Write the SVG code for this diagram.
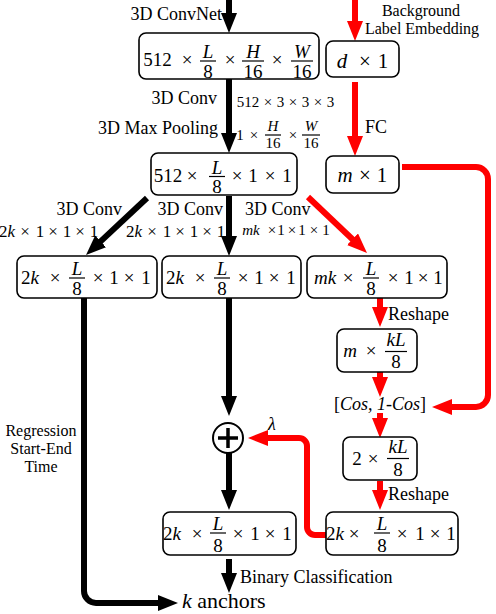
<svg xmlns="http://www.w3.org/2000/svg" width="496" height="614" viewBox="0 0 496 614" font-family="'Liberation Serif', 'DejaVu Serif', serif">
<defs>
<style>
text, tspan { font-family: 'Liberation Serif', 'DejaVu Serif', serif; fill: #000; }
.lb { font-size: 18px; }
.lb16 { font-size: 16px; text-anchor: middle; }
.sm { font-size: 15px; text-anchor: middle; }
.m { font-size: 19px; text-anchor: middle; }
.mb { font-size: 21px; text-anchor: middle; }
.i { font-style: italic; }
.box { fill: #fff; stroke: #000; stroke-width: 1.6; }
.fr { stroke: #000; stroke-width: 1.2; }
.ck { fill: none; stroke: #000; stroke-width: 6; }
.cr { fill: none; stroke: #f00; stroke-width: 6; }
</style>
<marker id="ab" viewBox="0 0 20 16" refX="4" refY="8" markerWidth="20" markerHeight="16" markerUnits="userSpaceOnUse" orient="auto"><path d="M0,0L20,8L0,16z" fill="#000"/></marker>
<marker id="ar" viewBox="0 0 20 16" refX="4" refY="8" markerWidth="20" markerHeight="16" markerUnits="userSpaceOnUse" orient="auto"><path d="M0,0L20,8L0,16z" fill="#f00"/></marker>
</defs>
<rect width="496" height="614" fill="#fff"/>

<g id="connectors">
<path class="ck" d="M229,0V17" marker-end="url(#ab)"/>
<path class="ck" d="M229,79V137" marker-end="url(#ab)"/>
<path class="ck" d="M147,198L97.7,244.1" marker-end="url(#ab)"/>
<path class="ck" d="M229,196V240" marker-end="url(#ab)"/>
<path class="ck" d="M84,298V591A12,12 0 0 0 96,603H162" marker-end="url(#ab)"/>
<path class="ck" d="M229,298V400" marker-end="url(#ab)"/>
<path class="ck" d="M229,453V494" marker-end="url(#ab)"/>
<path class="ck" d="M229,559V577" marker-end="url(#ab)"/>
<path class="cr" d="M355,0V25" marker-end="url(#ar)"/>
<path class="cr" d="M355,82V140" marker-end="url(#ar)"/>
<path class="cr" d="M308,197L355.4,242" marker-end="url(#ar)"/>
<path class="cr" d="M380,298V311" marker-end="url(#ar)"/>
<path class="cr" d="M380,372V381" marker-end="url(#ar)"/>
<path class="cr" d="M380,413V422" marker-end="url(#ar)"/>
<path class="cr" d="M380,481V494" marker-end="url(#ar)"/>
<path class="cr" d="M402,167H476A12,12 0 0 1 488,179V395A12,12 0 0 1 476,407H448" marker-end="url(#ar)"/>
<path class="cr" d="M326,535H315A8,8 0 0 1 307,527V446A8,8 0 0 0 299,438H264" marker-end="url(#ar)"/>
</g>

<g id="labels">
<text class="lb" x="222" y="20" text-anchor="end">3D ConvNet</text>
<text class="lb16" x="421" y="15.5">Background</text>
<text class="lb16" x="422" y="33.5">Label Embedding</text>
<text class="lb" x="217" y="104" text-anchor="end">3D Conv</text>
<text class="sm" x="248" y="107">512</text><text class="sm" x="268" y="107">×</text><text class="sm" x="280.5" y="107">3</text><text class="sm" x="293" y="107">×</text><text class="sm" x="305.5" y="107">3</text><text class="sm" x="318" y="107">×</text><text class="sm" x="330.5" y="107">3</text>
<text class="lb" x="218" y="134" text-anchor="end">3D Max Pooling</text>
<text class="sm" x="240" y="140">1</text><text class="sm" x="254" y="140">×</text>
<text class="sm i" x="273" y="131">H</text><line class="fr" x1="265" y1="135" x2="281" y2="135"/><text class="sm" x="273" y="148">16</text>
<text class="sm" x="293" y="140">×</text>
<text class="sm i" x="311" y="131">W</text><line class="fr" x1="302" y1="135" x2="320" y2="135"/><text class="sm" x="311" y="148">16</text>
<text class="lb" x="365" y="133">FC</text>
<text class="lb" x="122" y="215" text-anchor="end">3D Conv</text>
<text class="lb" x="223" y="215" text-anchor="end">3D Conv</text>
<text class="lb" x="245" y="215">3D Conv</text>
<g font-size="17" text-anchor="middle">
<text x="7" y="237">2<tspan class="i">k</tspan></text><text x="25" y="237">×</text><text x="40" y="237">1</text><text x="53" y="237">×</text><text x="67" y="237">1</text><text x="80" y="237">×</text><text x="94" y="237">1</text>
<text x="134" y="237">2<tspan class="i">k</tspan></text><text x="152" y="237">×</text><text x="167" y="237">1</text><text x="180" y="237">×</text><text x="194" y="237">1</text><text x="207" y="237">×</text><text x="221" y="237">1</text>
</g>
<g font-size="15" text-anchor="middle">
<text class="i" x="251" y="235">mk</text><text x="272" y="235">×</text><text x="281" y="235">1</text><text x="292" y="235">×</text><text x="302" y="235">1</text><text x="314" y="235">×</text><text x="326" y="235">1</text>
</g>
<text class="lb" x="388" y="320">Reshape</text>
<text class="lb" x="388" y="500">Reshape</text>
<text class="lb i" x="268" y="430">λ</text>
<text class="lb16" x="41" y="436">Regression</text>
<text class="lb16" x="41" y="454">Start-End</text>
<text class="lb16" x="41" y="472">Time</text>
<text class="lb" x="240" y="583">Binary Classification</text>
<text x="182" y="608" font-size="22"><tspan class="i">k</tspan> anchors</text>
<text x="380" y="410" font-size="18" text-anchor="middle">[<tspan class="i">Cos, 1-Cos</tspan>]</text>
</g>

<g id="n-input">
<rect class="box" x="139" y="33" width="180" height="46" rx="7"/>
<text class="m" x="157.5" y="65.5">512</text><text class="m" x="187" y="65.5">×</text>
<text class="m i" x="208" y="57.5">L</text><line class="fr" x1="200" y1="61" x2="216" y2="61"/><text class="m" x="208" y="77.5">8</text>
<text class="m" x="230" y="65.5">×</text>
<text class="m i" x="253" y="57.5">H</text><line class="fr" x1="242" y1="61" x2="264" y2="61"/><text class="m" x="253" y="77.5">16</text>
<text class="m" x="277" y="65.5">×</text>
<text class="m i" x="302" y="57.5">W</text><line class="fr" x1="291" y1="61" x2="313" y2="61"/><text class="m" x="302" y="77.5">16</text>
</g>

<g id="n-d">
<rect class="box" x="326" y="41" width="73" height="36" rx="7"/>
<text class="mb i" x="342" y="68">d</text><text class="mb" x="365" y="68">×</text><text class="mb" x="383" y="68">1</text>
</g>

<g id="n-m">
<rect class="box" x="326" y="156" width="73" height="37" rx="7"/>
<text class="mb i" x="345" y="182">m</text><text class="mb" x="365" y="182">×</text><text class="mb" x="382" y="182">1</text>
</g>

<g id="n-pool">
<rect class="box" x="151" y="153" width="146" height="42" rx="7"/>
<text class="m" x="168" y="182">512</text><text class="m" x="192" y="182">×</text>
<text class="m i" x="217" y="173.5">L</text><line class="fr" x1="209" y1="176.5" x2="225" y2="176.5"/><text class="m" x="217" y="192.5">8</text>
<text class="m" x="237" y="182">×</text><text class="m" x="253" y="182">1</text><text class="m" x="270" y="182">×</text><text class="m" x="287" y="182">1</text>
</g>

<g id="n-reg">
<rect class="box" x="17" y="256" width="140" height="42" rx="7"/>
<text class="m" x="30" y="283.5">2<tspan class="i">k</tspan></text><text class="m" x="55" y="283.5">×</text>
<text class="m i" x="77" y="275">L</text><line class="fr" x1="69" y1="278" x2="85" y2="278"/><text class="m" x="77" y="295">8</text>
<text class="m" x="98" y="283.5">×</text><text class="m" x="114" y="283.5">1</text><text class="m" x="129" y="283.5">×</text><text class="m" x="146" y="283.5">1</text>
</g>

<g id="n-cls">
<rect class="box" x="162" y="256" width="139" height="42" rx="7"/>
<text class="m" x="175" y="283.5">2<tspan class="i">k</tspan></text><text class="m" x="200" y="283.5">×</text>
<text class="m i" x="222" y="275">L</text><line class="fr" x1="214" y1="278" x2="230" y2="278"/><text class="m" x="222" y="295">8</text>
<text class="m" x="243" y="283.5">×</text><text class="m" x="259" y="283.5">1</text><text class="m" x="274" y="283.5">×</text><text class="m" x="291" y="283.5">1</text>
</g>

<g id="n-mk">
<rect class="box" x="307" y="256" width="140" height="42" rx="7"/>
<text class="m i" x="325" y="283.5">mk</text><text class="m" x="348" y="283.5">×</text>
<text class="m i" x="371" y="275">L</text><line class="fr" x1="363" y1="278" x2="379" y2="278"/><text class="m" x="371" y="295">8</text>
<text class="m" x="393" y="283.5">×</text><text class="m" x="409" y="283.5">1</text><text class="m" x="423" y="283.5">×</text><text class="m" x="438" y="283.5">1</text>
</g>

<g id="n-mkl">
<rect class="box" x="337" y="329" width="80" height="43" rx="7"/>
<text class="m i" x="350" y="357">m</text><text class="m" x="371" y="357">×</text>
<text class="m i" x="396" y="346">kL</text><line class="fr" x1="385" y1="351.5" x2="407" y2="351.5"/><text class="m" x="396" y="368">8</text>
</g>

<g id="n-2kl">
<rect class="box" x="343" y="437" width="74" height="43" rx="7"/>
<text class="m" x="357" y="465">2</text><text class="m" x="373" y="465">×</text>
<text class="m i" x="398" y="453">kL</text><line class="fr" x1="387" y1="458.5" x2="409" y2="458.5"/><text class="m" x="398" y="476">8</text>
</g>

<g id="n-sum">
<circle cx="228" cy="438" r="15" fill="#fff" stroke="#000" stroke-width="2"/>
<path d="M218,438H238M228,428V448" stroke="#000" stroke-width="3.5"/>
</g>

<g id="n-out">
<rect class="box" x="163" y="512" width="133" height="43" rx="7"/>
<text class="m" x="172" y="540">2<tspan class="i">k</tspan></text><text class="m" x="197" y="540">×</text>
<text class="m i" x="218" y="529.5">L</text><line class="fr" x1="210" y1="533" x2="226" y2="533"/><text class="m" x="218" y="551.5">8</text>
<text class="m" x="238" y="540">×</text><text class="m" x="255" y="540">1</text><text class="m" x="270" y="540">×</text><text class="m" x="287" y="540">1</text>
</g>

<g id="n-bg">
<rect class="box" x="326" y="512" width="132" height="43" rx="7"/>
<text class="m" x="335" y="540">2<tspan class="i">k</tspan></text><text class="m" x="354" y="540">×</text>
<text class="m i" x="382" y="529.5">L</text><line class="fr" x1="374" y1="533" x2="390" y2="533"/><text class="m" x="382" y="551.5">8</text>
<text class="m" x="402" y="540">×</text><text class="m" x="420" y="540">1</text><text class="m" x="435" y="540">×</text><text class="m" x="451" y="540">1</text>
</g>
</svg>
